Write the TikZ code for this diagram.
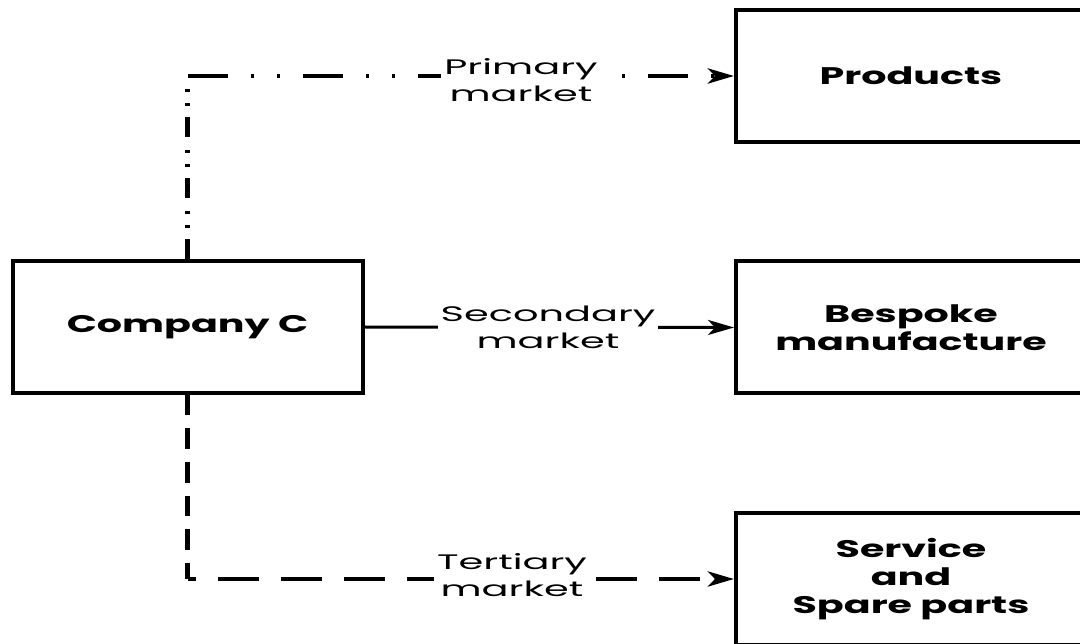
\documentclass[tikz,border=0pt]{standalone}
\usepackage{fontspec}
\usetikzlibrary{arrows.meta}
\newfontfamily\lblfont{Poppins}[FakeStretch=1.9]
\newfontfamily\boxfont{Poppins}[FakeStretch=1.65]
\begin{document}
\begin{tikzpicture}[x=1pt,y=-1pt,
  block/.style={draw=black,line width=4pt,fill=white,minimum width=350pt,minimum height=132pt,
    inner sep=0pt,align=center,font=\boxfont\bfseries\fontsize{24}{28}\selectfont},
  lbl/.style={fill=white,inner xsep=3pt,inner ysep=1pt,align=center,
    font=\lblfont\fontsize{21}{27}\selectfont},
  link/.style={line width=4.5pt},
  tip/.style={-{Stealth[length=26pt,width=15pt,inset=7pt]}}]
  \useasboundingbox (0,0) rectangle (1080,644);
  \clip (0,0) rectangle (1080,644);
  \fill[white] (0,0) rectangle (1080,644);

  % boxes
  \node[block] (cc)   at (187.5,327)   {Company C};
  \node[block] (prod) at (911,76)      {Products};
  \node[block] (besp) at (911,327.5)   {Bespoke\\manufacture};
  \node[block] (serv) at (911,579)     {Service\\and\\Spare parts};

  % corners of the two elbow connectors
  \coordinate (ctop) at (cc.north |- prod.west);
  \coordinate (cbot) at (cc.south |- serv.west);

  % primary market: dash-dot-dot
  \draw[link,dash pattern=on 20pt off 11pt on 3pt off 11pt on 3pt off 13pt] (cc.north) -- (ctop);
  \draw[link,tip,dash pattern=on 40pt off 23pt on 3pt off 23pt on 3pt off 23pt] (ctop) -- (prod.west);
  \node[lbl] (lp) at (521,80) {Primary\\market};

  % secondary market: solid
  \draw[line width=3pt,tip] (cc.east) -- (besp.west);
  \node[lbl] (ls) at (548,327) {Secondary\\market};

  % tertiary market: dashed
  \draw[link,dash pattern=on 20.5pt off 13pt] (cc.south) -- (cbot);
  \draw[link,tip,dash pattern=on 41pt off 22pt,dash phase=33pt] (cbot) -- (serv.west);
  \node[lbl] (lt) at (512,575) {Tertiary\\market};
\end{tikzpicture}
\end{document}
